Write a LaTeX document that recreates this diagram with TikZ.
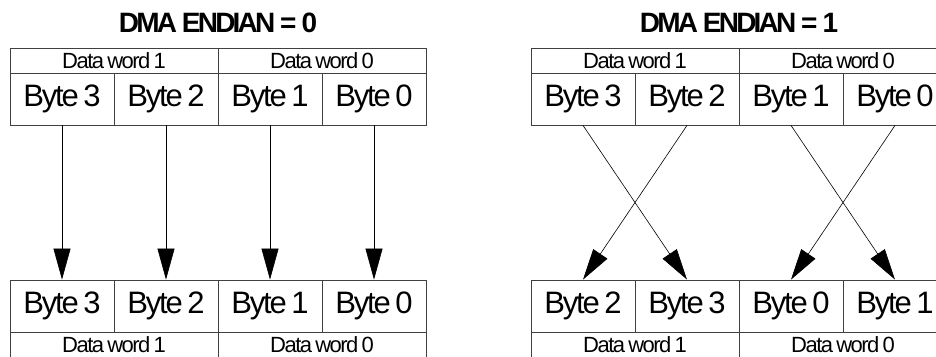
\documentclass[tikz,border=0pt]{standalone}
\usepackage{fontspec}
\setmainfont{Liberation Sans}
\newfontfamily\bytefont[LetterSpace=-7,WordSpace=0.7]{Liberation Sans}
\newfontfamily\headfont[LetterSpace=-10]{Liberation Sans Bold}
\usepackage{tikz}
\usetikzlibrary{arrows.meta}

\tikzset{
  cell/.style={draw=black!75, line width=0.8pt, inner sep=0pt,
    minimum width=104pt, minimum height=52pt, font=\bytefont\fontsize{31}{31}\selectfont},
  word/.style={draw=black!75, line width=0.8pt, inner sep=0pt,
    minimum width=208pt, minimum height=25pt, font=\bytefont\fontsize{22}{22}\selectfont},
  title/.style={font=\headfont\fontsize{28}{28}\selectfont},
  move/.style={-{Triangle[length=31pt,width=17pt]}, line width=0.6pt}
}

\begin{document}
\begin{tikzpicture}[x=1pt,y=-1pt]
\clip (0,0) rectangle (936,356);

% DMA ENDIAN = 0
\node[title] (ttlL) at (218,23) {DMA ENDIAN = 0};
\node[word] (Ltw1) at (114,60.5) {Data word 1};
\node[word] (Ltw0) at (322,60.5) {Data word 0};
\node[cell] (Lt3) at (62,99) {Byte 3};
\node[cell] (Lt2) at (166,99) {Byte 2};
\node[cell] (Lt1) at (270,99) {Byte 1};
\node[cell] (Lt0) at (374,99) {Byte 0};

\node[cell] (Lb3) at (62,306) {Byte 3};
\node[cell] (Lb2) at (166,306) {Byte 2};
\node[cell] (Lb1) at (270,306) {Byte 1};
\node[cell] (Lb0) at (374,306) {Byte 0};
\node[word] (Lbw1) at (114,344.5) {Data word 1};
\node[word] (Lbw0) at (322,344.5) {Data word 0};

\draw[move] (Lt3.south) -- (Lb3.north);
\draw[move] (Lt2.south) -- (Lb2.north);
\draw[move] (Lt1.south) -- (Lb1.north);
\draw[move] (Lt0.south) -- (Lb0.north);

% DMA ENDIAN = 1
\node[title] (ttlR) at (739,23) {DMA ENDIAN = 1};
\node[word] (Rtw1) at (635,60.5) {Data word 1};
\node[word] (Rtw0) at (843,60.5) {Data word 0};
\node[cell] (Rt3) at (583,99) {Byte 3};
\node[cell] (Rt2) at (687,99) {Byte 2};
\node[cell] (Rt1) at (791,99) {Byte 1};
\node[cell] (Rt0) at (895,99) {Byte 0};

\node[cell] (Rb2) at (583,306) {Byte 2};
\node[cell] (Rb3) at (687,306) {Byte 3};
\node[cell] (Rb0) at (791,306) {Byte 0};
\node[cell] (Rb1) at (895,306) {Byte 1};
\node[word] (Rbw1) at (635,344.5) {Data word 1};
\node[word] (Rbw0) at (843,344.5) {Data word 0};

\draw[move] (Rt3.south) -- (Rb3.north);
\draw[move] (Rt2.south) -- (Rb2.north);
\draw[move] (Rt1.south) -- (Rb1.north);
\draw[move] (Rt0.south) -- (Rb0.north);
\end{tikzpicture}
\end{document}
